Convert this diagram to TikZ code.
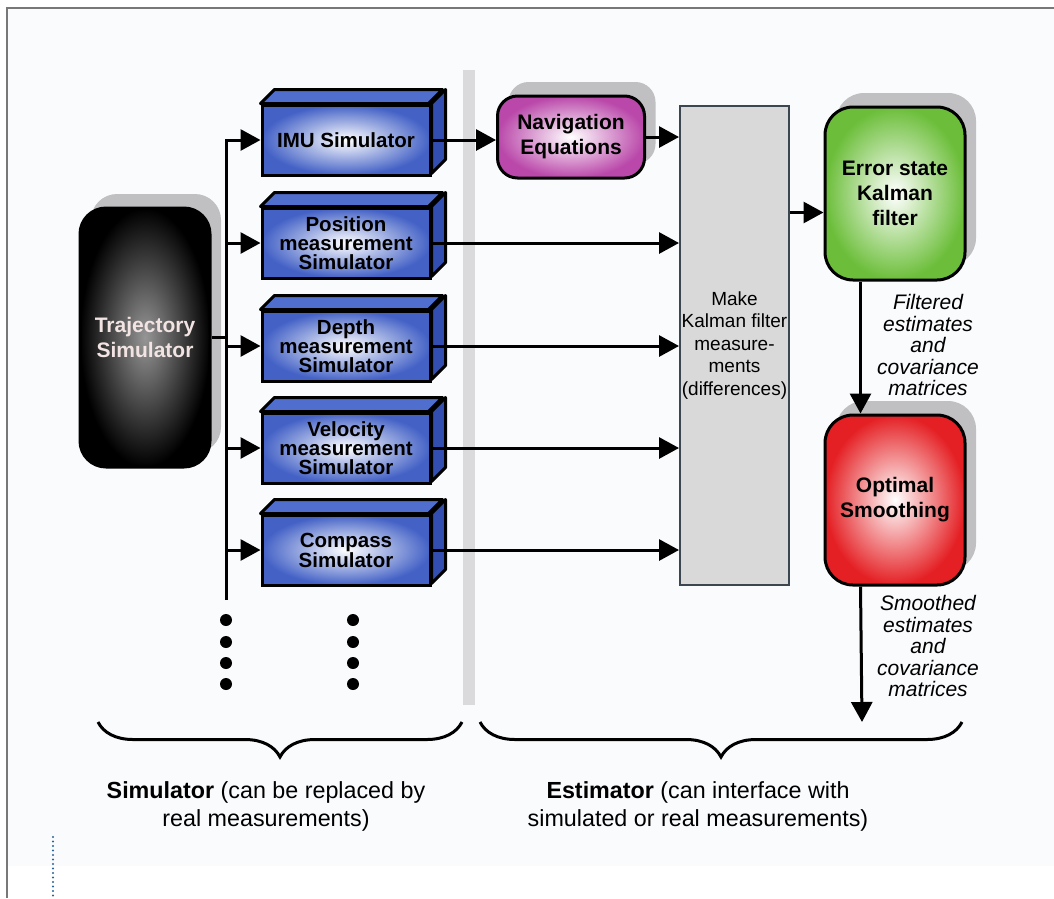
\documentclass[tikz,border=0pt]{standalone}
\usepackage{fontspec}
\setmainfont{Liberation Sans}
\usetikzlibrary{arrows.meta,shadows,decorations.pathreplacing}
\definecolor{simBlue}{RGB}{68,98,198}
\definecolor{simBlueSide}{RGB}{50,78,176}
\definecolor{simBlueTop}{RGB}{80,110,206}
\definecolor{trajGray}{RGB}{150,150,150}
\definecolor{trajText}{RGB}{242,228,226}
\definecolor{navPink}{RGB}{186,72,170}
\definecolor{kfGreen}{RGB}{108,190,58}
\definecolor{smRed}{RGB}{228,32,36}
\definecolor{measGray}{RGB}{217,217,217}
\definecolor{measEdge}{RGB}{60,70,80}
\definecolor{shadowGray}{RGB}{192,192,194}
\definecolor{sepGray}{RGB}{218,218,220}
\definecolor{pageBg}{RGB}{250,251,253}
\definecolor{frameGray}{RGB}{120,120,120}
\definecolor{dotBlue}{RGB}{40,100,150}
\tikzstyle{simBox}=[shape = rectangle, minimum width = 168pt, minimum height = 70pt, inner sep = 0pt, draw, line width = 3pt, inner color = white, outer color = simBlue, align = center, font = \fontsize{20.5}{19}\selectfont\bfseries]
\tikzstyle{roundBox}=[shape = rectangle, rounded corners = 24pt, inner sep = 0pt, draw, line width = 3pt, inner color = white, align = center, font = \fontsize{21}{25}\selectfont\bfseries, drop shadow = {shadow xshift = 11pt, shadow yshift = 14pt, fill = shadowGray, opacity = 1}]
\tikzstyle{topFace}=[draw, line width = 3pt, line join = round, fill = simBlueTop]
\tikzstyle{sideFace}=[draw, line width = 3pt, line join = round, fill = simBlueSide]

\begin{document}
\begin{tikzpicture}[x = 1pt, y = -1pt]
\tikzstyle{flowLine}=[line width = 3pt]
\tikzstyle{flowArrow}=[line width = 3pt, -{Triangle[length = 20pt, width = 21pt]}]
\tikzstyle{noteText}=[align = center, font = \fontsize{21}{21.5}\selectfont\itshape]
\tikzstyle{capText}=[align = center, font = \fontsize{23.3}{28}\selectfont]
\tikzstyle{braceLine}=[line width = 3pt, decorate, decoration = {brace, mirror, amplitude = 35pt}]
\useasboundingbox (0,0) rectangle (1054,898);
\fill[pageBg] (8,9) rectangle (1054,866);
\draw[frameGray, line width = 1.5pt] (7,898) -- (7,8) -- (1054,8);
\draw[dotBlue, line width = 2.2pt, line cap = round, dash pattern = on 0pt off 4.5pt] (53,837) -- (53,898);
\fill[sepGray] (463,70) rectangle (475,705);
% simulator side
\node[style = roundBox, rounded corners = 26pt, minimum width = 130pt, minimum height = 259pt, inner color = trajGray, outer color = black, text = trajText] (traj) at (145,337.5) {Trajectory\\Simulator};
\node[style = simBox] (imu) at (346,140) {IMU Simulator};
\node[style = simBox] (pos) at (346,243) {Position\\measurement\\Simulator};
\node[style = simBox] (dep) at (346,346) {Depth\\measurement\\Simulator};
\node[style = simBox] (vel) at (346,448) {Velocity\\measurement\\Simulator};
\node[style = simBox] (cmp) at (346,550) {Compass\\Simulator};
\foreach \b in {imu,pos,dep,vel,cmp}{
  \draw[style = topFace] (\b.north west) -- ++(14,-14) -- ++(168,0) -- ++(-14,14) -- cycle;
  \draw[style = sideFace] (\b.north east) -- ++(14,-14) -- ++(0,70) -- ++(-14,14) -- cycle;
}
\coordinate (busTop) at (226,140);
\coordinate (busEnd) at (226,600);
\draw[style = flowArrow] (busEnd) |- (imu.west);
\draw[style = flowLine] (traj.east) -- (traj.east -| busTop);
\foreach \b in {pos,dep,vel,cmp}
  \draw[style = flowArrow] (\b.west -| busTop) -- (\b.west);
\foreach \y in {620,642,663,684}{
  \fill (226,\y) circle (6pt);
  \fill (353,\y) circle (6pt);
}
% estimator side
\node[style = roundBox, rounded corners = 20pt, minimum width = 147pt, minimum height = 82pt, outer color = navPink] (nav) at (571,137) {Navigation\\Equations};
\node[draw = measEdge, line width = 2pt, fill = measGray, minimum width = 109pt, minimum height = 479pt, inner sep = 0pt, align = center, font = \fontsize{19}{22.5}\selectfont] (meas) at (734.5,345.5) {Make\\Kalman filter\\measure-\\ments\\(differences)};
\node[style = roundBox, rounded corners = 28pt, minimum width = 140pt, minimum height = 173pt, outer color = kfGreen] (kf) at (895,193.5) {Error state\\Kalman\\filter};
\node[style = roundBox, rounded corners = 28pt, minimum width = 140pt, minimum height = 170pt, outer color = smRed] (smooth) at (895,500) {Optimal\\Smoothing};
\draw[style = flowArrow] (imu.east) -- (imu.east -| nav.west);
\draw[style = flowArrow] (nav.east) -- (nav.east -| meas.west);
\foreach \b in {pos,dep,vel,cmp}
  \draw[style = flowArrow] (\b.east) -- (\b.east -| meas.west);
\coordinate (kfIn) at ([yshift = -19pt]kf.west);
\draw[style = flowArrow] (kfIn -| meas.east) -- (kfIn);
\coordinate (kfOut) at ([xshift = 37pt]kf.south west);
\coordinate (smOut) at (862,722);
\draw[style = flowArrow] (kfOut) -- (kfOut |- smooth.north);
\draw[style = flowArrow] (kfOut |- smooth.south) -- (smOut);
\node[style = noteText] (filtNote) at (928,345) {Filtered\\estimates\\and\\covariance\\matrices};
\node[style = noteText] (smNote) at (928,646) {Smoothed\\estimates\\and\\covariance\\matrices};
% braces and captions
\draw[style = braceLine] (98,722) -- (462,722);
\draw[style = braceLine] (480,722) -- (962,722);
\node[style = capText] (simCap) at (266,806) {\textbf{Simulator} (can be replaced by\\real measurements)};
\node[style = capText] (estCap) at (698,806) {\textbf{Estimator} (can interface with\\simulated or real measurements)};
\end{tikzpicture}
\end{document}
